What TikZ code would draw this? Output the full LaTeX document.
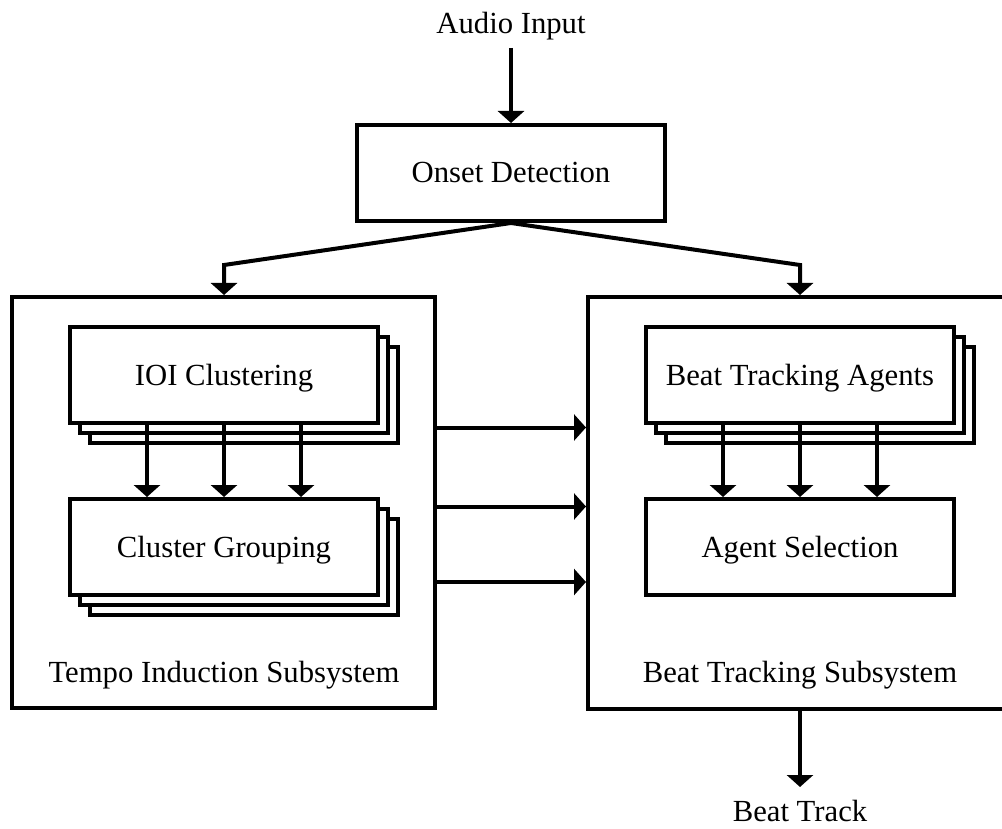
\documentclass[tikz,border=0pt]{standalone}
\usepackage{fontspec}
\setmainfont{Liberation Serif}
\usetikzlibrary{arrows.meta,calc}
\begin{document}
\begin{tikzpicture}[x=1pt,y=-1pt,
  lw/.style={line width=4pt},
  txt/.style={font=\fontsize{30.7pt}{36pt}\selectfont},
  box/.style={draw,lw,fill=white,minimum width=308pt,minimum height=96pt,inner sep=0pt,text height=20pt,text depth=0pt,txt},
  outerbox/.style={draw,lw,inner sep=0pt},
  lbl/.style={inner sep=0pt,anchor=base,txt},
  arr/.style={lw,-{Triangle[width=26pt,length=12pt]}}
]
\useasboundingbox (0,0) rectangle (1002,829);
\clip (0,0) rectangle (1002,829);

% top
\node[lbl] (audio) at (511,34) {Audio Input};
\coordinate (ain) at (511,48);
\node[box] (onset) at (511,173) {Onset Detection};

% outer subsystems
\node[outerbox,minimum width=423pt,minimum height=411pt] (tis) at (223.5,502.5) {};
\node[outerbox,minimum width=424pt,minimum height=412pt] (bts) at (800,503) {};
\node[lbl] (tisl) at (224,682) {Tempo Induction Subsystem};
\node[lbl] (btsl) at (800,682) {Beat Tracking Subsystem};

% left stacks
\node[box] (ioi3) at (244,395) {};
\node[box] (ioi2) at (234,385) {};
\node[box] (ioi) at (224,375) {IOI Clustering};
\node[box] (clg3) at (244,567) {};
\node[box] (clg2) at (234,557) {};
\node[box] (clg) at (224,547) {Cluster Grouping};

% right stack
\node[box] (bta3) at (820,395) {};
\node[box] (bta2) at (810,385) {};
\node[box] (bta) at (800,375) {Beat Tracking Agents};
\node[box] (ags) at (800,547) {Agent Selection};

% bottom
\coordinate (btend) at (800,787);
\node[lbl] (beat) at (800,821) {Beat Track};

% connectors
\draw[arr] (ain) -- (onset.north);
\coordinate (splitL) at (224,265);
\coordinate (splitR) at (800,265);
\draw[arr] (onset.south) -- (splitL) -- (splitL |- tis.north);
\draw[arr] (onset.south) -- (splitR) -- (splitR |- bts.north);

\foreach \dx in {-77,0,77} {
  \draw[arr] ([xshift=\dx pt]ioi.south) -- ([xshift=\dx pt]clg.north);
  \draw[arr] ([xshift=\dx pt]bta.south) -- ([xshift=\dx pt]ags.north);
}

\coordinate (h1) at ([yshift=75pt]tis.east);
\coordinate (h2) at ([yshift=-4pt]tis.east);
\coordinate (h3) at ([yshift=-79.5pt]tis.east);
\draw[arr] (h1) -- (h1 -| bts.west);
\draw[arr] (h2) -- (h2 -| bts.west);
\draw[arr] (h3) -- (h3 -| bts.west);

\draw[arr] (bts.south) -- (btend);
\end{tikzpicture}
\end{document}
